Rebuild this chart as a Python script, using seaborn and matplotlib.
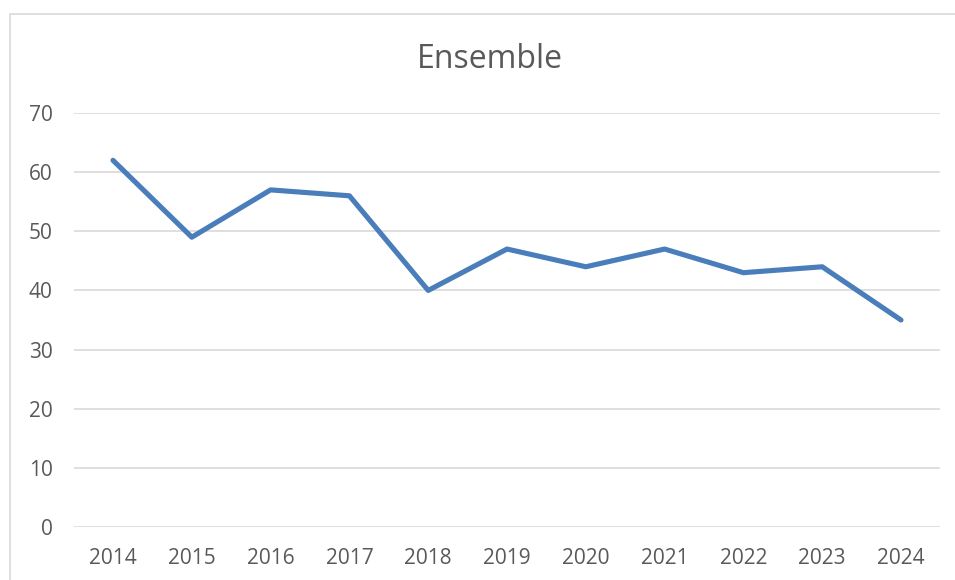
import pandas as pd
import matplotlib.pyplot as plt
import seaborn as sns
from matplotlib.patches import Rectangle

# données
years = [2014, 2015, 2016, 2017, 2018, 2019, 2020, 2021, 2022, 2023, 2024]
values = [62, 49, 57, 56, 40, 47, 44, 47, 43, 44, 35]
y_ticks = [0, 10, 20, 30, 40, 50, 60, 70]

df = pd.DataFrame({'annee': years, 'valeur': values})

sns.set_style('white')
plt.rcParams['font.family'] = ['Open Sans', 'DejaVu Sans']

W, H = 955, 580
fig = plt.figure(figsize=(W / 100, H / 100), dpi=100)
ax = fig.add_axes([73.6 / W, 1 - 527 / H, (940.4 - 73.6) / W, (527 - 113) / H])

sns.lineplot(data=df, x='annee', y='valeur', ax=ax, color='#4A7EBB',
             linewidth=3.7, solid_capstyle='round', solid_joinstyle='round',
             zorder=3)

ax.set_xlim(years[0] - 0.5, years[-1] + 0.5)
ax.set_ylim(y_ticks[0], y_ticks[-1])
ax.set_xticks(years)
ax.set_xticklabels([str(y) for y in years])
ax.set_yticks(y_ticks)
ax.yaxis.grid(True, color='#D9D9D9', linewidth=1.2)
ax.set_axisbelow(True)
for s in ax.spines.values():
    s.set_visible(False)
ax.tick_params(axis='both', length=0, labelsize=15, colors='#595959')
ax.tick_params(axis='y', pad=15)
ax.tick_params(axis='x', pad=15)
ax.set_xlabel('')
ax.set_ylabel('')

fig.text(490 / W, 1 - 60 / H, 'Ensemble', ha='center', va='center',
         fontsize=23, color='#595959')

# bordure de la zone du graphique (coupée à droite et en bas)
fig.patches.append(Rectangle((10 / W, -0.1), 1.2, 1.1 - 14 / H,
                             transform=fig.transFigure, fill=False,
                             edgecolor='#D9D9D9', linewidth=1.2))

fig.savefig('out.png', dpi=100)
